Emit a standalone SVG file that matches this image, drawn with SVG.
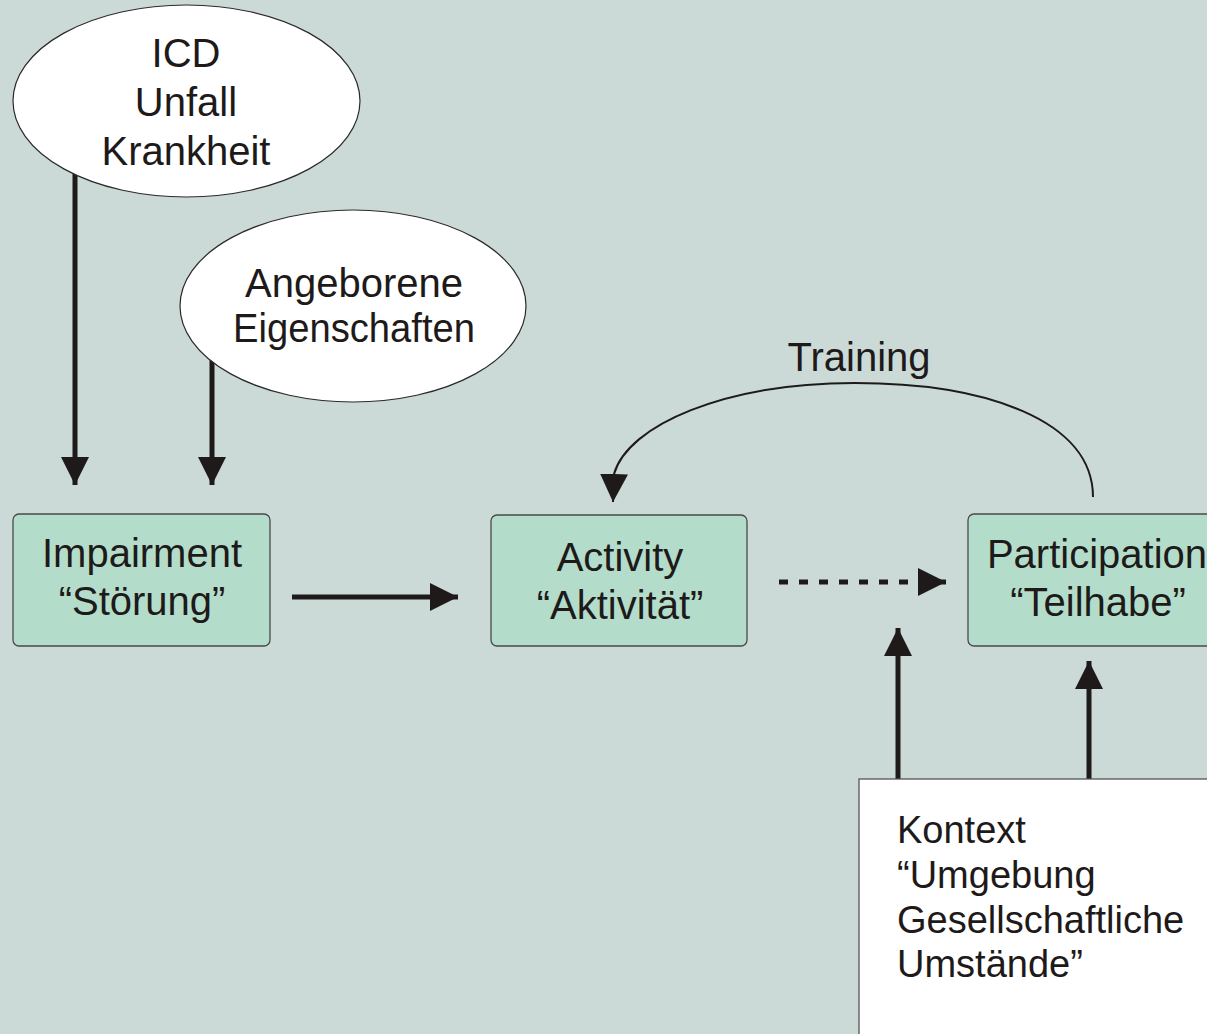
<svg xmlns="http://www.w3.org/2000/svg" width="1207" height="1034" viewBox="0 0 1207 1034">
<defs>
<style>
.bg{fill:#CCDAD7}
.ell{fill:#FFFFFF;stroke:#2a2a2a;stroke-width:1.2}
.box{fill:#B3DDCA;stroke:#4a4a4a;stroke-width:1.3}
.ctx{fill:#FFFFFF;stroke:#555;stroke-width:1.3}
.t{font-family:"Liberation Sans",Arial,sans-serif;font-size:40px;fill:#1e1a1a;text-anchor:middle}
.k{font-family:"Liberation Sans",Arial,sans-serif;font-size:38px;fill:#1e1a1a}
.thick{stroke:#1e1a1a;stroke-width:5;fill:none}
.thin{stroke:#1e1a1a;stroke-width:2;fill:none}
</style>
<marker id="ah" markerUnits="userSpaceOnUse" markerWidth="30" markerHeight="30" refX="28" refY="14" orient="auto" viewBox="0 0 30 30">
<path d="M0,0 L28,14 L0,28 Z" fill="#1e1a1a"/>
</marker>
</defs>
<rect class="bg" x="0" y="0" width="1207" height="1034"/>
<g id="connectors">
<line class="thick" x1="75" y1="172" x2="75" y2="485" marker-end="url(#ah)"/>
<line class="thick" x1="212" y1="360" x2="212" y2="485" marker-end="url(#ah)"/>
<line class="thick" x1="292" y1="597" x2="458" y2="597" marker-end="url(#ah)"/>
<line class="thick" x1="779" y1="582" x2="946" y2="582" stroke-dasharray="9 11" marker-end="url(#ah)"/>
<line class="thick" x1="898" y1="780" x2="898" y2="628" marker-end="url(#ah)"/>
<line class="thick" x1="1089" y1="780" x2="1089" y2="661" marker-end="url(#ah)"/>
<path class="thin" d="M1093,497 C1093,420 985,383 855,383 C725,383 628,425 614,474 L613,502" marker-end="url(#ah)"/>
<text class="t" x="859" y="371">Training</text>
</g>
<g id="icd">
<ellipse class="ell" cx="186.5" cy="101" rx="173.5" ry="96"/>
<text class="t" x="186" y="67">ICD</text>
<text class="t" x="186" y="116">Unfall</text>
<text class="t" x="186" y="165">Krankheit</text>
</g>
<g id="angeboren">
<ellipse class="ell" cx="353" cy="306" rx="173" ry="96"/>
<text class="t" x="354" y="297">Angeborene</text>
<text class="t" x="354" y="342" textLength="242" lengthAdjust="spacingAndGlyphs">Eigenschaften</text>
</g>
<g id="impairment">
<rect class="box" x="13" y="514" width="257" height="132" rx="6"/>
<text class="t" x="142" y="567">Impairment</text>
<text class="t" x="142" y="615">“Störung”</text>
</g>
<g id="activity">
<rect class="box" x="491" y="515" width="256" height="131" rx="6"/>
<text class="t" x="620" y="571">Activity</text>
<text class="t" x="620" y="619">“Aktivität”</text>
</g>
<g id="participation">
<rect class="box" x="968" y="514" width="260" height="132" rx="6"/>
<text class="t" x="1097" y="568">Participation</text>
<text class="t" x="1098" y="616">“Teilhabe”</text>
</g>
<g id="kontext">
<rect class="ctx" x="859" y="779" width="360" height="270"/>
<text class="k" x="897" y="843">Kontext</text>
<text class="k" x="897" y="888">“Umgebung</text>
<text class="k" x="897" y="933">Gesellschaftliche</text>
<text class="k" x="897" y="977">Umstände”</text>
</g>
</svg>
